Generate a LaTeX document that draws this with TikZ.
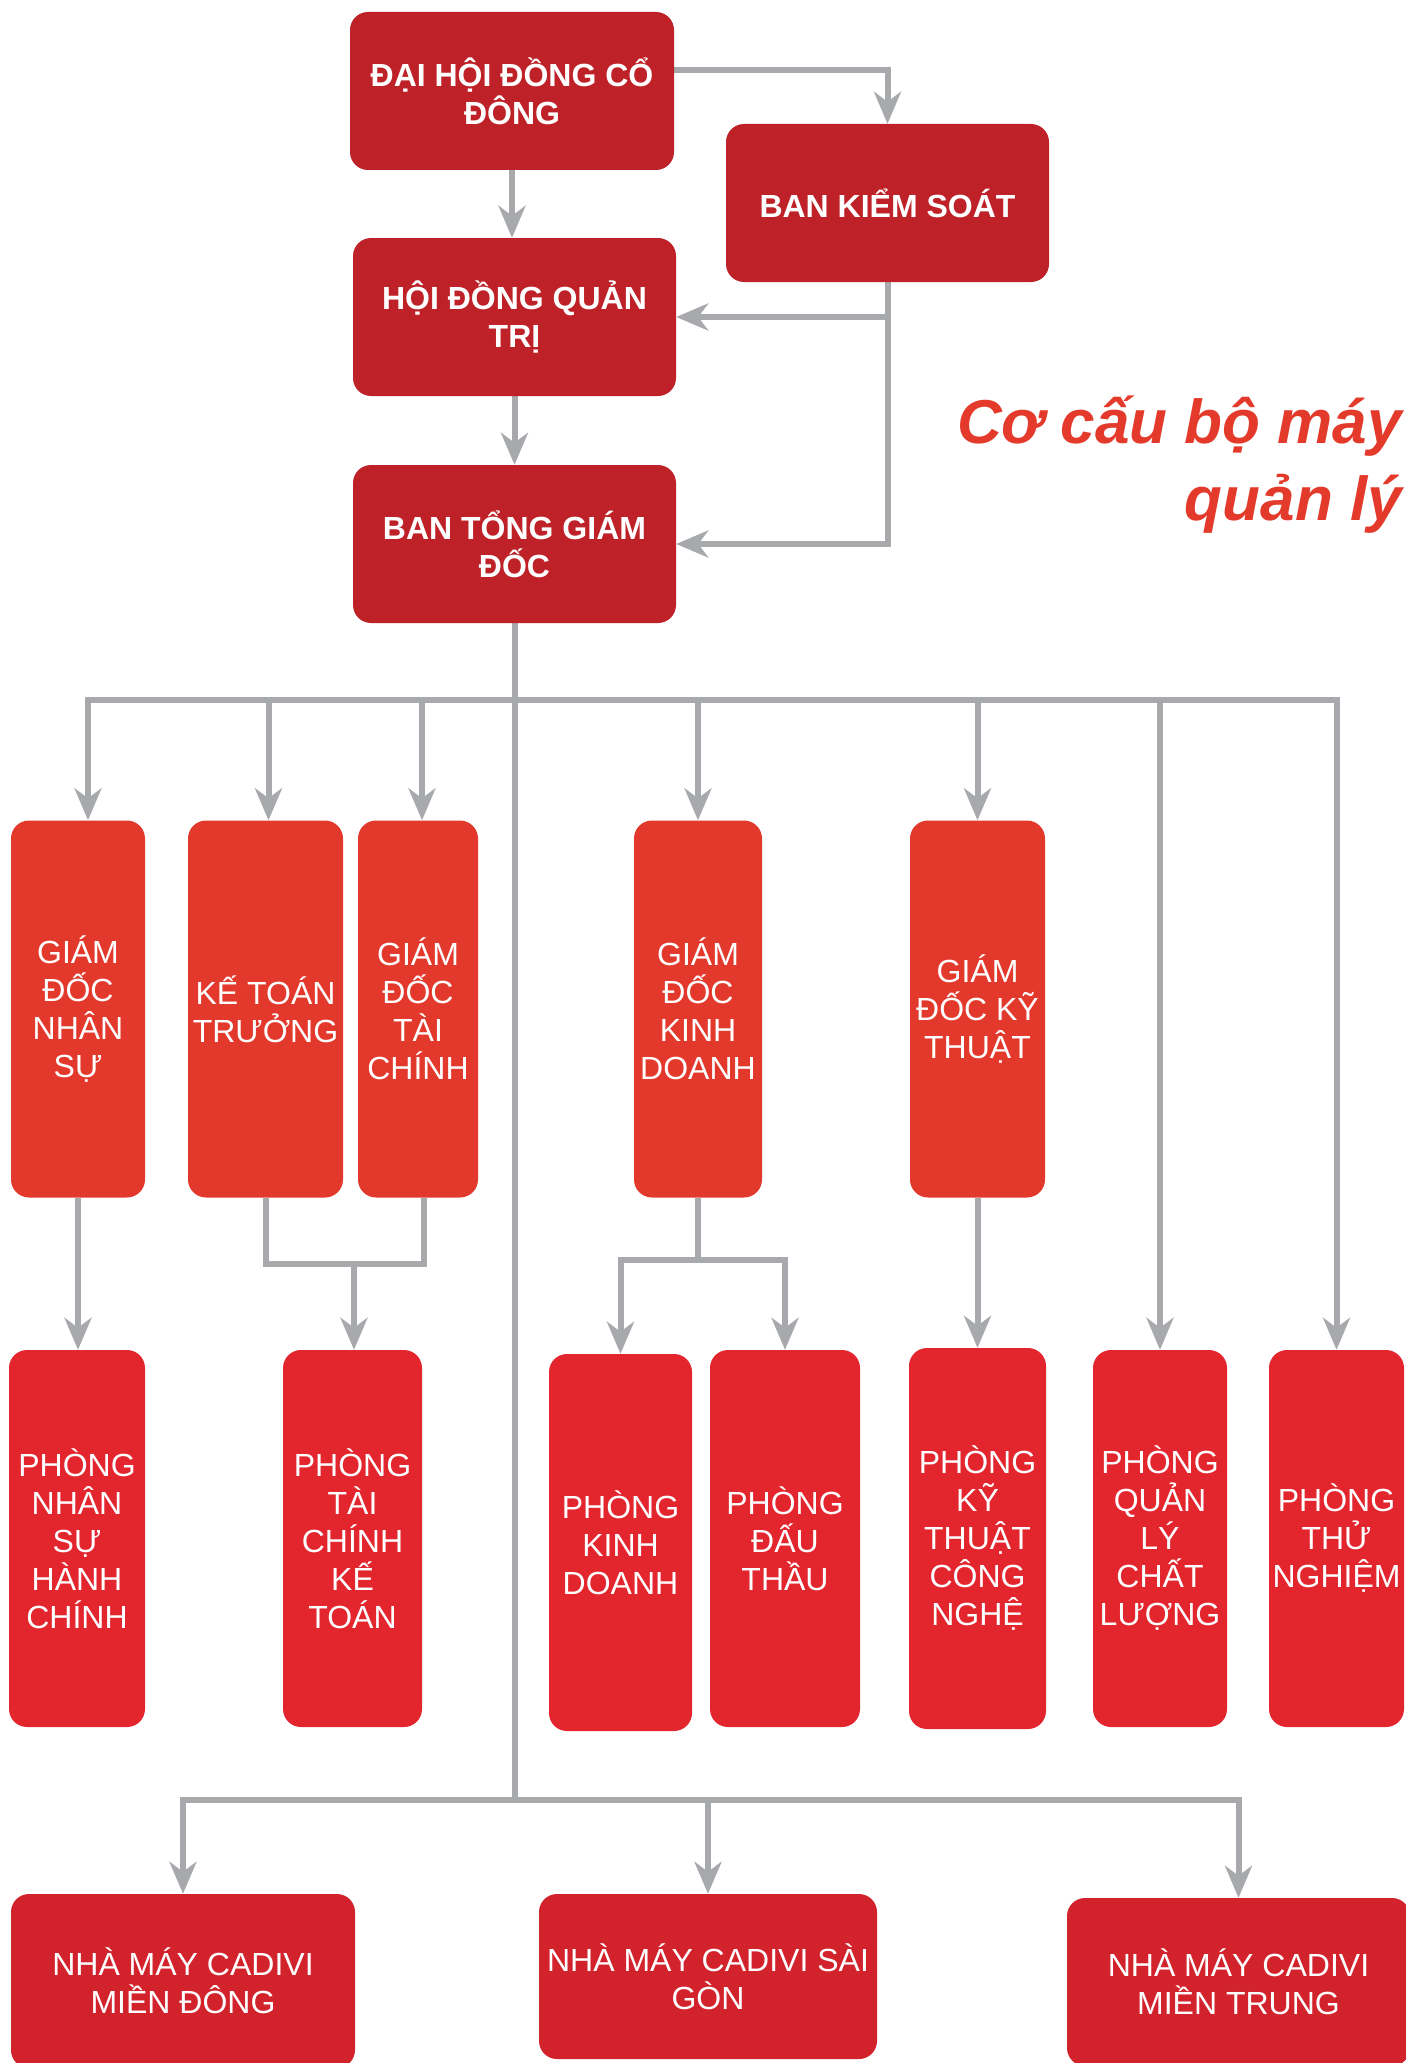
\documentclass[tikz,border=0pt]{standalone}
\usepackage{fontspec}
\setmainfont{Liberation Sans}
\usepackage{xcolor}
\usetikzlibrary{arrows.meta,backgrounds}

\definecolor{topred}{HTML}{BE2127}
\definecolor{midred}{HTML}{E3392C}
\definecolor{lowred}{HTML}{E3252E}
\definecolor{plantred}{HTML}{D2222C}
\definecolor{titlered}{HTML}{E33A2B}
\definecolor{linkgray}{HTML}{A7A9AC}

\tikzset{
    box/.style={rounded corners=18pt, text=white, align=center, inner sep=0pt,
        font=\fontsize{32}{38}\selectfont},
    topbox/.style={box, fill=topred, minimum width=323pt, minimum height=158pt,
        font=\fontsize{32}{38}\selectfont\bfseries},
    midbox/.style={box, fill=midred, minimum height=377pt},
    lowbox/.style={box, fill=lowred, minimum height=377pt},
    plantbox/.style={box, fill=plantred},
    link/.style={draw=linkgray, line width=6pt},
    arrowlink/.style={link, -{Stealth[length=32pt,width=27pt,inset=10pt]}},
    twoarrows/.style={link, {Stealth[length=32pt,width=27pt,inset=10pt]}-{Stealth[length=32pt,width=27pt,inset=10pt]}},
    titletext/.style={text=titlered, inner sep=0pt, anchor=base east,
        font=\fontsize{62}{77}\selectfont\bfseries\itshape}
}

\begin{document}
\begin{tikzpicture}[x=1pt, y=-1pt]
    \useasboundingbox (0,0) rectangle (1405,2063);

    % Top management
    \node[topbox, minimum width=324pt] (dh) at (512,91) {ĐẠI HỘI ĐỒNG CỔ\\ĐÔNG};
    \node[topbox] (bks) at (887.5,203) {BAN KIỂM SOÁT};
    \node[topbox] (hdqt) at (514.5,317) {HỘI ĐỒNG QUẢN\\TRỊ};
    \node[topbox] (btgd) at (514.5,544) {BAN TỔNG GIÁM\\ĐỐC};

    % Title
    \node[titletext] (title1) at (1402,443) {Cơ cấu bộ máy};
    \node[titletext] (title2) at (1402,520) {quản lý};

    % Directors
    \node[midbox, minimum width=134pt] (gdns) at (78,1009) {GIÁM\\ĐỐC\\NHÂN\\SỰ};
    \node[midbox, minimum width=155pt] (ktt) at (265.5,1009) {KẾ TOÁN\\TRƯỞNG};
    \node[midbox, minimum width=120pt] (gdtc) at (418,1009) {GIÁM\\ĐỐC\\TÀI\\CHÍNH};
    \node[midbox, minimum width=128pt] (gdkd) at (698,1009) {GIÁM\\ĐỐC\\KINH\\DOANH};
    \node[midbox, minimum width=135pt] (gdkt) at (977.5,1009) {GIÁM\\ĐỐC KỸ\\THUẬT};

    % Departments
    \node[lowbox, minimum width=136pt] (pnshc) at (77,1538.5) {PHÒNG\\NHÂN\\SỰ\\HÀNH\\CHÍNH};
    \node[lowbox, minimum width=139pt] (ptckt) at (352.5,1538.5) {PHÒNG\\TÀI\\CHÍNH\\KẾ\\TOÁN};
    \node[lowbox, minimum width=143pt] (pkd) at (620.5,1542.5) {PHÒNG\\KINH\\DOANH};
    \node[lowbox, minimum width=150pt] (pdt) at (785,1538.5) {PHÒNG\\ĐẤU\\THẦU};
    \node[lowbox, minimum width=137pt, minimum height=381pt] (pktcn) at (977.5,1538.5) {PHÒNG\\KỸ\\THUẬT\\CÔNG\\NGHỆ};
    \node[lowbox, minimum width=134pt] (pqlcl) at (1160,1538.5) {PHÒNG\\QUẢN\\LÝ\\CHẤT\\LƯỢNG};
    \node[lowbox, minimum width=135pt] (ptn) at (1336.5,1538.5) {PHÒNG\\THỬ\\NGHIỆM};

    % Factories
    \node[plantbox, minimum width=344pt, minimum height=174pt] (nmd) at (183,1981) {NHÀ MÁY CADIVI\\MIỀN ĐÔNG};
    \node[plantbox, minimum width=338pt, minimum height=165pt] (nsg) at (708,1976.5) {NHÀ MÁY CADIVI SÀI\\GÒN};
    \node[plantbox, minimum width=343pt, minimum height=168pt] (nmt) at (1238.5,1982) {NHÀ MÁY CADIVI\\MIỀN TRUNG};

    % Junction points
    \coordinate (jtop) at (888,70);
    \coordinate (busA) at (514.5,700);
    \coordinate (busB) at (514.5,1800);
    \coordinate (jtc) at (354,1264);
    \coordinate (jkd) at (698,1260);

    \begin{scope}[on background layer]
        % Upper links
        \draw[arrowlink] (dh.east |- jtop) -| (bks.north);
        \draw[arrowlink] (dh.south) -- (dh.south |- hdqt.north);
        \draw[arrowlink] (bks.south) |- (btgd.east);
        \draw[arrowlink] (bks.south |- hdqt.east) -- (hdqt.east);
        \draw[arrowlink] (hdqt.south) -- (btgd.north);

        % Main trunk and bus to directors
        \draw[link] (btgd.south) -- (busB);
        \draw[twoarrows] ([xshift=10pt]gdns.north) |- (busA) -| (ptn.north);
        \draw[arrowlink] ([xshift=3pt]ktt.north |- busA) -- ([xshift=3pt]ktt.north);
        \draw[arrowlink] ([xshift=4pt]gdtc.north |- busA) -- ([xshift=4pt]gdtc.north);
        \foreach \n in {gdkd,gdkt,pqlcl} {
            \draw[arrowlink] (\n.north |- busA) -- (\n.north);
        }

        % Directors to departments
        \draw[arrowlink] (gdns.south) -- (gdns.south |- pnshc.north);
        \draw[link] (ktt.south) |- (jtc) -| ([xshift=6pt]gdtc.south);
        \draw[arrowlink] (jtc) -- (jtc |- ptckt.north);
        \draw[link] (gdkd.south) -- (jkd);
        \draw[twoarrows] (pkd.north) |- (jkd) -| (pdt.north);
        \draw[arrowlink] (gdkt.south) -- (pktcn.north);

        % Factories
        \draw[twoarrows] (nmd.north) |- (busB) -| (nmt.north);
        \draw[arrowlink] (nsg.north |- busB) -- (nsg.north);
    \end{scope}

\end{tikzpicture}
\end{document}
